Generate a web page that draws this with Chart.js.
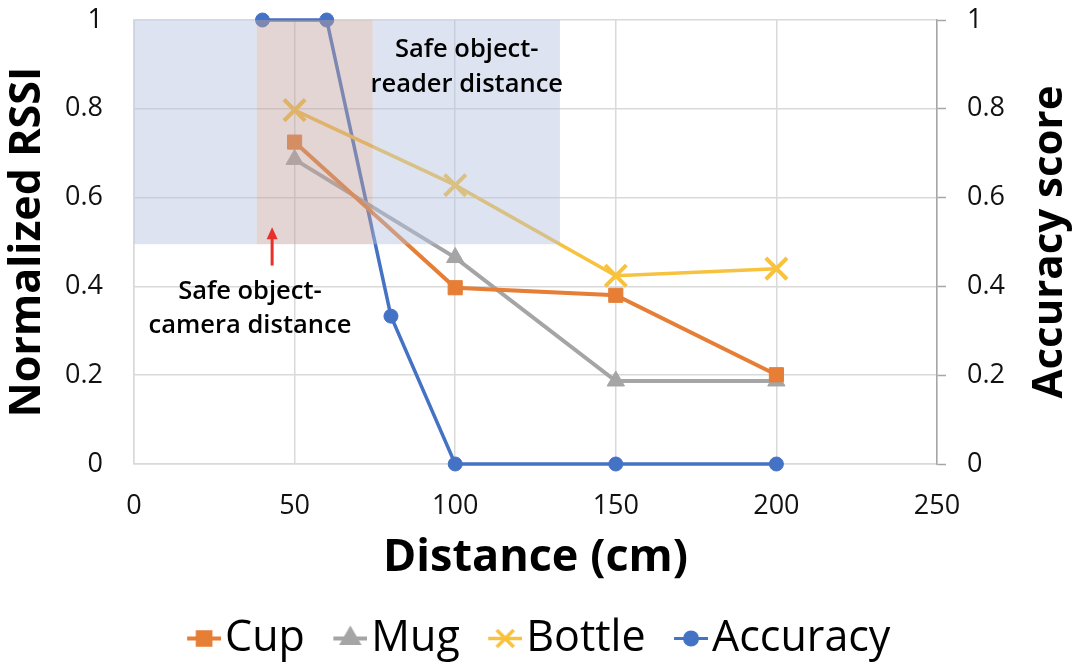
<!DOCTYPE html>
<html>
<head>
<meta charset="utf-8">
<script src="https://cdn.jsdelivr.net/npm/chart.js@4/dist/chart.umd.min.js"></script>
<style>
  html, body { margin: 0; padding: 0; background: #ffffff; }
  #wrap { width: 1077px; height: 666px; position: relative; }
</style>
</head>
<body>
<div id="wrap"><canvas id="chart"></canvas></div>
<script>
// Measured RSSI per object at each distance (cm)
const distances = [50, 100, 150, 200];
const cupRssi = [0.725, 0.397, 0.380, 0.201];
const mugRssi = [0.686, 0.465, 0.187, 0.187];
const bottleRssi = [0.797, 0.628, 0.424, 0.440];

// Recognition accuracy vs. distance
const accuracyDistances = [40, 60, 80, 100, 150, 200];
const accuracyScores = [1, 1, 0.333, 0, 0, 0];

// Axis ticks
const xTicks = [0, 50, 100, 150, 200, 250];
const yTicks = [0, 0.2, 0.4, 0.6, 0.8, 1];

// Highlighted distance ranges (cm) and the RSSI floor they extend down to
const readerZone = [0, 132.6];
const cameraZone = [38.2, 74.3];
const zoneFloor = 0.495;

const seriesNames = ['Cup', 'Mug', 'Bottle', 'Accuracy'];

const FONT = '"Open Sans", Lato, sans-serif';
const COLORS = { cup: '#E67E35', mug: '#A5A5A5', bottle: '#F7C23E', acc: '#4472C4' };

const toPoints = (xs, ys) => xs.map((x, i) => ({ x, y: ys[i] }));

// Legend icons: a short line with the series marker on it (left part left blank as spacing)
function legendIcon(color, style, radius, lineWidth) {
  const c = document.createElement('canvas');
  c.width = 79; c.height = 43;
  const ctx = c.getContext('2d');
  ctx.strokeStyle = color;
  ctx.fillStyle = color;
  ctx.lineWidth = lineWidth;
  ctx.beginPath();
  ctx.moveTo(45, 21.5);
  ctx.lineTo(79, 21.5);
  ctx.stroke();
  Chart.helpers.drawPoint(ctx, { pointStyle: style, radius: radius, borderWidth: style === 'crossRot' ? 3.5 : 1, rotation: 0 }, 62, 21.5);
  return c;
}

const icons = [
  legendIcon(COLORS.cup, 'rect', 9, 4),
  legendIcon(COLORS.mug, 'triangle', 9, 4),
  legendIcon(COLORS.bottle, 'crossRot', 12, 3.5),
  legendIcon(COLORS.acc, 'circle', 6.5, 3)
];

// Shaded zones are laid over the series, then the notes and arrow on top
const zonesPlugin = {
  id: 'zones',
  afterDatasetsDraw(chart) {
    const { ctx, scales: { x, y } } = chart;
    const top = y.getPixelForValue(1);
    const bottom = y.getPixelForValue(zoneFloor);
    const px = v => x.getPixelForValue(v);
    ctx.save();
    ctx.fillStyle = 'rgba(179,193,222,0.45)';
    ctx.fillRect(px(readerZone[0]), top, px(cameraZone[0]) - px(readerZone[0]), bottom - top);
    ctx.fillRect(px(cameraZone[1]), top, px(readerZone[1]) - px(cameraZone[1]), bottom - top);
    ctx.fillStyle = 'rgba(193,162,157,0.45)';
    ctx.fillRect(px(cameraZone[0]), top, px(cameraZone[1]) - px(cameraZone[0]), bottom - top);
    ctx.restore();
  },
  afterDraw(chart) {
    const { ctx, scales: { x, y } } = chart;
    ctx.save();
    ctx.fillStyle = '#000';
    ctx.textAlign = 'center';
    ctx.textBaseline = 'middle';
    ctx.font = '600 25.5px ' + FONT;
    ctx.fillText('Safe object-', x.getPixelForValue(103.6), y.getPixelForValue(0.932));
    ctx.fillText('reader distance', x.getPixelForValue(103.6), y.getPixelForValue(0.855));
    ctx.fillText('Safe object-', x.getPixelForValue(36.1), y.getPixelForValue(0.388));
    ctx.fillText('camera distance', x.getPixelForValue(36.1), y.getPixelForValue(0.311));

    // right-hand axis title, reading bottom to top
    const y1 = chart.scales.y1;
    ctx.save();
    ctx.translate(1050, (y1.top + y1.bottom) / 2);
    ctx.rotate(-Math.PI / 2);
    ctx.font = 'bold 42px ' + FONT;
    ctx.fillText('Accuracy score', 0, 0);
    ctx.restore();

    // red arrow pointing up at the camera zone
    const ax = x.getPixelForValue(43);
    const ay0 = y.getPixelForValue(0.447);
    const ay1 = y.getPixelForValue(0.533);
    ctx.strokeStyle = '#E8302A';
    ctx.fillStyle = '#E8302A';
    ctx.lineWidth = 3;
    ctx.beginPath();
    ctx.moveTo(ax, ay0);
    ctx.lineTo(ax, ay1 + 10);
    ctx.stroke();
    ctx.beginPath();
    ctx.moveTo(ax, ay1);
    ctx.lineTo(ax - 5.5, ay1 + 12);
    ctx.lineTo(ax + 5.5, ay1 + 12);
    ctx.closePath();
    ctx.fill();
    ctx.restore();
  }
};

const tickFont = { family: FONT, size: 27 };
const noScalePadding = s => { s.paddingTop = 0; s.paddingBottom = 0; };

new Chart(document.getElementById('chart'), {
  type: 'scatter',
  data: {
    datasets: [
      { label: seriesNames[0], data: toPoints(distances, cupRssi), yAxisID: 'y', showLine: true,
        borderColor: COLORS.cup, backgroundColor: COLORS.cup, borderWidth: 4,
        pointStyle: 'rect', pointRadius: 10, pointBorderWidth: 1, clip: false },
      { label: seriesNames[1], data: toPoints(distances, mugRssi), yAxisID: 'y', showLine: true,
        borderColor: COLORS.mug, backgroundColor: COLORS.mug, borderWidth: 4,
        pointStyle: 'triangle', pointRadius: 10, pointBorderWidth: 1, clip: false },
      { label: seriesNames[2], data: toPoints(distances, bottleRssi), yAxisID: 'y', showLine: true,
        borderColor: COLORS.bottle, backgroundColor: COLORS.bottle, borderWidth: 3.5,
        pointStyle: 'crossRot', pointRadius: 15, pointBorderWidth: 4, clip: false },
      { label: seriesNames[3], data: toPoints(accuracyDistances, accuracyScores), yAxisID: 'y1', showLine: true,
        borderColor: COLORS.acc, backgroundColor: COLORS.acc, borderWidth: 3.5,
        pointStyle: 'circle', pointRadius: 7, pointBorderWidth: 1, clip: false }
    ]
  },
  options: {
    responsive: true,
    maintainAspectRatio: false,
    animation: false,
    layout: { padding: { top: 20, left: 0, right: 27, bottom: -4 } },
    elements: { line: { tension: 0 }, point: { hoverRadius: 10 } },
    plugins: {
      tooltip: { enabled: false },
      legend: {
        position: 'bottom',
        labels: {
          usePointStyle: true,
          pointStyleWidth: 44,
          padding: 1,
          color: '#000',
          font: { family: FONT, size: 43 },
          generateLabels(chart) {
            const items = Chart.defaults.plugins.legend.labels.generateLabels(chart);
            items.forEach((it, i) => { it.pointStyle = icons[i]; });
            return items;
          }
        }
      }
    },
    scales: {
      x: {
        type: 'linear', min: 0, max: 250,
        afterBuildTicks: s => { s.ticks = xTicks.map(v => ({ value: v })); },
        afterFit: s => { s.height = 152; },
        grid: { color: '#D9D9D9', lineWidth: 1.5, drawTicks: false },
        border: { display: true, color: '#D9D9D9', width: 1.5 },
        ticks: { padding: 26, color: '#111', font: tickFont },
        title: { display: true, text: 'Distance (cm)', color: '#000', padding: { top: 0, bottom: 31 },
                 font: { family: FONT, size: 45, weight: 'bold' } }
      },
      y: {
        position: 'left', min: 0, max: 1,
        afterBuildTicks: s => { s.ticks = yTicks.map(v => ({ value: v })); },
        afterFit: s => { s.width = 134; noScalePadding(s); },
        grid: { color: '#D9D9D9', lineWidth: 1.5, drawTicks: false },
        border: { display: true, color: '#D9D9D9', width: 1.5 },
        ticks: { padding: 31, color: '#111', font: tickFont, callback: v => String(v) },
        title: { display: true, text: 'Normalized RSSI', color: '#000', padding: { top: 2, bottom: 0 },
                 font: { family: FONT, size: 43, weight: 'bold' } }
      },
      y1: {
        position: 'right', min: 0, max: 1,
        afterBuildTicks: s => { s.ticks = yTicks.map(v => ({ value: v })); },
        afterFit: s => { s.width = 113; noScalePadding(s); },
        grid: { drawOnChartArea: false, drawTicks: true, tickLength: 9, tickColor: '#A6A6A6', tickWidth: 1.5 },
        border: { display: true, color: '#A6A6A6', width: 1.5 },
        ticks: { padding: 21, color: '#111', font: tickFont, callback: v => String(v) }
      }
    }
  },
  plugins: [zonesPlugin]
});
</script>
</body>
</html>
